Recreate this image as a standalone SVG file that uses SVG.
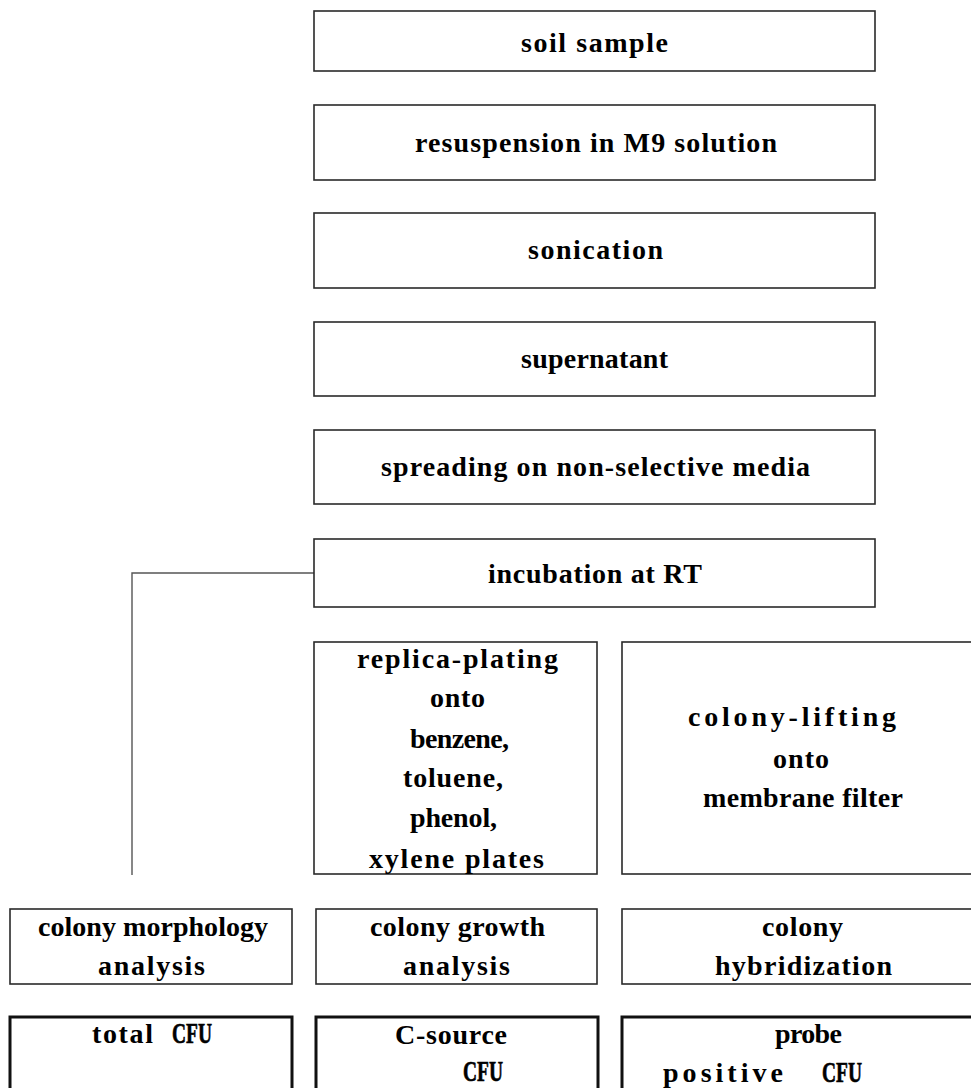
<svg xmlns="http://www.w3.org/2000/svg" width="971" height="1088" viewBox="0 0 971 1088">
<style>
  .box { fill: #ffffff; stroke: #2a2a2a; stroke-width: 1.6; }
  .thick { fill: #ffffff; stroke: #111111; stroke-width: 3; }
  .t { font-family: "Liberation Serif", "DejaVu Serif", serif; font-weight: bold; font-size: 28px; fill: #000000; }
  .cfu { font-size: 30px; stroke: #000000; stroke-width: 0.7; }
  .conn { fill: none; stroke: #555555; stroke-width: 1.4; }
</style>
<rect width="971" height="1088" fill="#ffffff"/>
<g id="connectors">
  <polyline class="conn" points="314,573 132,573 132,875"/>
</g>
<g id="soil-sample">
  <rect class="box" x="314" y="11" width="561" height="60"/>
  <text class="t" x="521" y="52" textLength="147">soil sample</text>
</g>
<g id="resuspension">
  <rect class="box" x="314" y="105" width="561" height="75"/>
  <text class="t" x="415" y="152" textLength="362">resuspension in M9 solution</text>
</g>
<g id="sonication">
  <rect class="box" x="314" y="213" width="561" height="75"/>
  <text class="t" x="528" y="259" textLength="135">sonication</text>
</g>
<g id="supernatant">
  <rect class="box" x="314" y="322" width="561" height="74"/>
  <text class="t" x="521" y="368" textLength="147">supernatant</text>
</g>
<g id="spreading">
  <rect class="box" x="314" y="430" width="561" height="74"/>
  <text class="t" x="381" y="476" textLength="429">spreading on non-selective media</text>
</g>
<g id="incubation">
  <rect class="box" x="314" y="539" width="561" height="68"/>
  <text class="t" x="488" y="583" textLength="214">incubation at RT</text>
</g>
<g id="replica-plating">
  <rect class="box" x="314" y="642" width="283" height="232"/>
  <text class="t" x="357" y="668" textLength="201">replica-plating</text>
  <text class="t" x="430" y="707" textLength="55">onto</text>
  <text class="t" x="410" y="748" textLength="99">benzene,</text>
  <text class="t" x="403" y="787" textLength="100">toluene,</text>
  <text class="t" x="410" y="827" textLength="87">phenol,</text>
  <text class="t" x="369" y="868" textLength="175">xylene plates</text>
</g>
<g id="colony-lifting">
  <rect class="box" x="622" y="642" width="370" height="232"/>
  <text class="t" x="688" y="726" textLength="208">colony-lifting</text>
  <text class="t" x="773" y="768" textLength="56">onto</text>
  <text class="t" x="703" y="807" textLength="200">membrane filter</text>
</g>
<g id="colony-morphology">
  <rect class="box" x="10" y="909" width="282" height="75"/>
  <text class="t" x="38" y="936" textLength="230">colony morphology</text>
  <text class="t" x="98" y="975" textLength="107">analysis</text>
</g>
<g id="colony-growth">
  <rect class="box" x="316" y="909" width="281" height="75"/>
  <text class="t" x="370" y="936" textLength="175">colony growth</text>
  <text class="t" x="403" y="975" textLength="107">analysis</text>
</g>
<g id="colony-hybridization">
  <rect class="box" x="622" y="909" width="370" height="75"/>
  <text class="t" x="762" y="936" textLength="81">colony</text>
  <text class="t" x="715" y="975" textLength="177">hybridization</text>
</g>
<g id="total-cfu">
  <rect class="thick" x="10" y="1017" width="282" height="90"/>
  <text class="t" x="92" y="1043" textLength="61">total</text>
  <text class="t cfu" x="172" y="1043" textLength="40" lengthAdjust="spacingAndGlyphs">CFU</text>
</g>
<g id="c-source-cfu">
  <rect class="thick" x="316" y="1017" width="282" height="90"/>
  <text class="t" x="395" y="1044" textLength="112">C-source</text>
  <text class="t cfu" x="463" y="1081" textLength="40" lengthAdjust="spacingAndGlyphs">CFU</text>
</g>
<g id="probe-positive-cfu">
  <rect class="thick" x="622" y="1017" width="370" height="90"/>
  <text class="t" x="775" y="1043" textLength="67">probe</text>
  <text class="t" x="663" y="1082" textLength="120">positive</text>
  <text class="t cfu" x="822" y="1082" textLength="40" lengthAdjust="spacingAndGlyphs">CFU</text>
</g>
</svg>
